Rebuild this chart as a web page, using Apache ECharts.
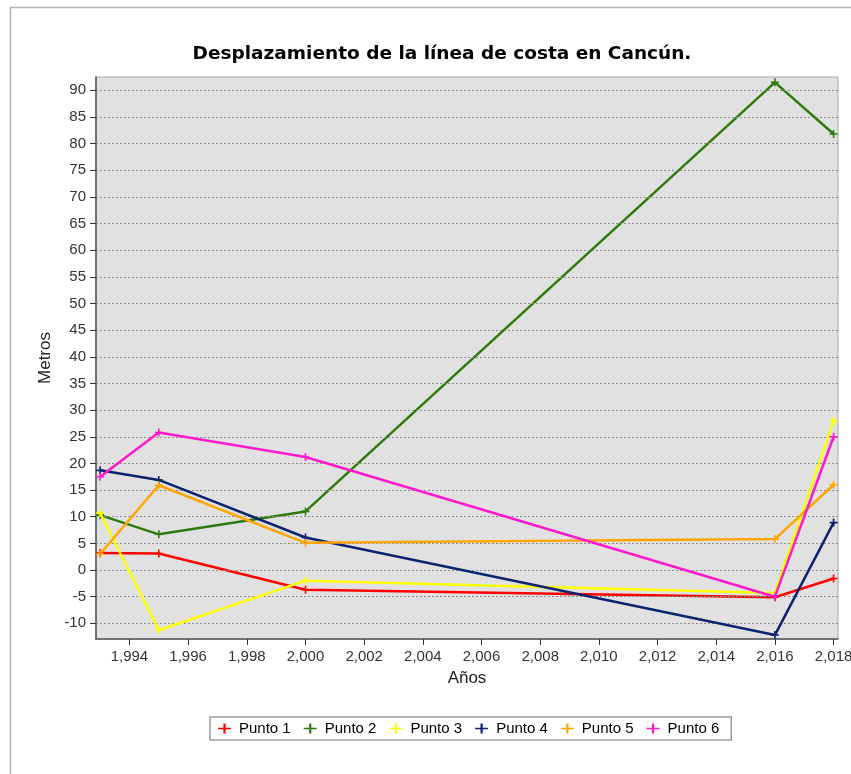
<!DOCTYPE html>
<html>
<head>
<meta charset="utf-8">
<script src="https://cdn.jsdelivr.net/npm/echarts@6/dist/echarts.min.js"></script>
<style>
  html, body { margin: 0; padding: 0; background: #fff; }
  #chart { width: 851px; height: 774px; }
</style>
</head>
<body>
<div id="chart"></div>
<script>
// Survey years and shoreline displacement (metres) for each control point
const years = [1993, 1995, 2000, 2016, 2018];
const punto1 = [3.2, 3.1, -3.7, -5.1, -1.6];
const punto2 = [10.3, 6.7, 11.0, 91.5, 81.8];
const punto3 = [10.7, -11.3, -2.0, -4.3, 28.0];
const punto4 = [18.7, 16.9, 6.1, -12.2, 8.9];
const punto5 = [3.0, 15.9, 5.1, 5.8, 16.0];
const punto6 = [17.5, 25.8, 21.2, -5.0, 25.0];

const seriesNames = ['Punto 1', 'Punto 2', 'Punto 3', 'Punto 4', 'Punto 5', 'Punto 6'];
const seriesValues = [punto1, punto2, punto3, punto4, punto5, punto6];
const colors = ['#ff0000', '#2f7a0c', '#ffff00', '#0a2470', '#ffa500', '#ff19cc'];

const xTicks = [1994, 1996, 1998, 2000, 2002, 2004, 2006, 2008, 2010, 2012, 2014, 2016, 2018];
const yTicks = [-10, -5, 0, 5, 10, 15, 20, 25, 30, 35, 40, 45, 50, 55, 60, 65, 70, 75, 80, 85, 90];

const FONT = 'Liberation Sans, Arial, sans-serif';
const plusIcon = 'path://M4,0H6V4H10V6H6V10H4V6H0V4H4Z';
const legendIcon = 'path://M0,4.2H5.4V0H7.6V4.2H13V5.8H7.6V10H5.4V5.8H0Z';

const chart = echarts.init(document.getElementById('chart'), null, { renderer: 'canvas' });

const series = seriesNames.map((name, i) => ({
  name: name,
  type: 'line',
  data: years.map((y, j) => [y, seriesValues[i][j]]),
  symbol: plusIcon,
  symbolSize: 8,
  showSymbol: true,
  lineStyle: { color: colors[i], width: 2.5 },
  itemStyle: { color: colors[i] },
  emphasis: { disabled: true },
  z: 3 + i
}));

// dotted horizontal grid lines at each y tick
series.push({
  type: 'line',
  data: [],
  silent: true,
  markLine: {
    silent: true,
    symbol: ['none', 'none'],
    label: { show: false },
    lineStyle: { color: '#8c8c8c', type: [2, 2], width: 1 },
    data: yTicks.map(v => ({ yAxis: v }))
  },
  z: 1
});

const fmt = v => Number(v).toLocaleString('en-US');

chart.setOption({
  animation: false,
  backgroundColor: '#ffffff',
  title: {
    text: 'Desplazamiento de la línea de costa en Cancún.',
    left: 437,
    textAlign: 'center',
    top: 40,
    textStyle: { fontFamily: 'DejaVu Sans, Verdana, sans-serif', fontSize: 18.5, fontWeight: 'bold', color: '#000' }
  },
  legend: {
    data: seriesNames.map((n, i) => ({ name: n, icon: legendIcon, itemStyle: { color: colors[i] } })),
    left: 210,
    top: 717,
    itemWidth: 13,
    itemHeight: 10,
    itemGap: 13,
    padding: [4, 12, 4, 8],
    borderColor: '#9a9a9a',
    borderWidth: 1.5,
    textStyle: { fontFamily: FONT, fontSize: 15, color: '#000', padding: [0, 0, 0, 3] },
    selectedMode: false
  },
  grid: {
    left: 96,
    right: 13,
    top: 77,
    bottom: 135,
    outerBoundsMode: 'none',
    containLabel: false,
    show: true,
    backgroundColor: '#e1e1e1',
    borderColor: '#a8a8a8',
    borderWidth: 1
  },
  xAxis: {
    type: 'value',
    min: 1992.86,
    max: 2018.15,
    name: 'Años',
    nameLocation: 'middle',
    nameGap: 31,
    nameTextStyle: { fontFamily: FONT, fontSize: 17, color: '#222' },
    axisLine: { show: true, onZero: false, lineStyle: { color: '#555', width: 1.5 } },
    axisTick: { show: true, length: 6, lineStyle: { color: '#333' }, customValues: xTicks },
    axisLabel: {
      customValues: xTicks,
      formatter: fmt,
      fontFamily: FONT,
      fontSize: 15,
      color: '#333',
      margin: 10,
      hideOverlap: false
    },
    splitLine: { show: false }
  },
  yAxis: {
    type: 'value',
    min: -12.94,
    max: 92.5,
    name: 'Metros',
    nameLocation: 'middle',
    nameGap: 41,
    nameTextStyle: { fontFamily: FONT, fontSize: 17, color: '#222' },
    axisLine: { show: true, lineStyle: { color: '#555', width: 1.5 } },
    axisTick: { show: true, length: 6, lineStyle: { color: '#333' }, customValues: yTicks },
    axisLabel: {
      customValues: yTicks,
      formatter: fmt,
      fontFamily: FONT,
      fontSize: 15,
      color: '#333',
      margin: 10
    },
    splitLine: { show: false }
  },
  graphic: [
    { type: 'line', shape: { x1: 10.5, y1: 7, x2: 10.5, y2: 774 }, style: { stroke: '#b4b4b4', lineWidth: 1.5 }, silent: true },
    { type: 'line', shape: { x1: 10, y1: 7.5, x2: 851, y2: 7.5 }, style: { stroke: '#b4b4b4', lineWidth: 1.5 }, silent: true }
  ],
  series: series
});
</script>
</body>
</html>
